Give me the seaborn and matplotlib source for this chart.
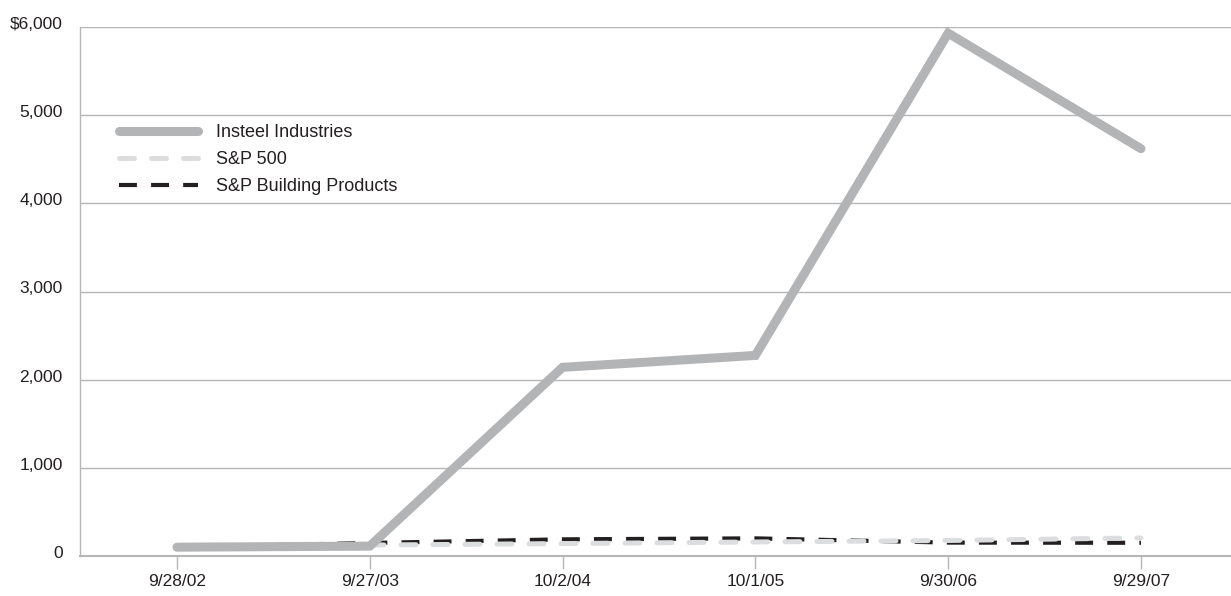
import matplotlib
matplotlib.use("Agg")
import matplotlib.pyplot as plt
import matplotlib.transforms as mtransforms
from matplotlib import font_manager
import seaborn as sns
import pandas as pd
from matplotlib.ticker import FuncFormatter

dates = ["9/28/02", "9/27/03", "10/2/04", "10/1/05", "9/30/06", "9/29/07"]
insteel = [100, 112, 2140, 2275, 5930, 4620]
sp500 = [100, 124, 141, 159, 176, 205]
building = [100, 148, 189, 200, 152, 150]
series_names = ["Insteel Industries", "S&P 500", "S&P Building Products"]
yticks = [0, 1000, 2000, 3000, 4000, 5000, 6000]

sns.set_theme(style="white")

names = {f.name for f in font_manager.fontManager.ttflist}
if "Liberation Sans Narrow" in names:
    fam = ["Liberation Sans Narrow", "DejaVu Sans"]
    scale = 1.0 / 0.82
else:
    fam = ["Liberation Sans", "DejaVu Sans"]
    scale = 1.0
plt.rcParams['font.family'] = fam

fig = plt.figure(figsize=(12.31, 5.96), dpi=100)
ax = fig.add_axes([80/1231, 1-556/596, 1-80/1231, (556-27)/596])

pos = list(range(len(dates)))
df = pd.DataFrame({"pos": pos, "Insteel": insteel, "SP500": sp500, "Building": building})

grid_c = "#b5b6b8"
text_c = "#231f20"
sns.lineplot(data=df, x="pos", y="Building", ax=ax, color="#231f20", linewidth=3.0,
             label=series_names[2], zorder=3)
sns.lineplot(data=df, x="pos", y="SP500", ax=ax, color="#dcdddf", linewidth=3.6,
             label=series_names[1], zorder=4)
sns.lineplot(data=df, x="pos", y="Insteel", ax=ax, color="#b3b4b6", linewidth=6.5,
             label=series_names[0], zorder=5)

lines = ax.get_lines()
lines[0].set_dashes([4.3, 3.4])
lines[0].set_dash_capstyle("butt")
lines[1].set_dashes([3.0, 3.4])
lines[1].set_dash_capstyle("round")
lines[2].set_solid_capstyle("round")
lines[2].set_solid_joinstyle("miter")

ax.set_xlim(-0.503, 5.467)
ax.set_ylim(0, 6000)
ax.set_yticks(yticks)
ax.yaxis.set_major_formatter(FuncFormatter(
    lambda v, p: "$6,000" if v == 6000 else ("0" if v == 0 else f"{int(v):,}")))
ax.set_xticks(pos)
ax.set_xticklabels(dates)
ax.set_xlabel("")
ax.set_ylabel("")

ax.grid(axis="y", color=grid_c, linewidth=1.0)
ax.grid(axis="x", visible=False)
ax.set_axisbelow(True)
for s in ["top", "right"]:
    ax.spines[s].set_visible(False)
ax.spines["left"].set_color(grid_c)
ax.spines["left"].set_linewidth(1.0)
ax.spines["bottom"].set_color(grid_c)
ax.spines["bottom"].set_linewidth(1.5)

ax.tick_params(axis="x", which="major", bottom=True, length=9, width=1.0, color=grid_c,
               labelsize=12.5 * scale, pad=4, labelcolor=text_c)
ax.tick_params(axis="y", left=False, length=0, labelsize=12.5 * scale, pad=12.5,
               labelcolor=text_c)

offset = mtransforms.ScaledTranslation(0, 3/72, fig.dpi_scale_trans)
for lbl in ax.get_yticklabels():
    lbl.set_transform(lbl.get_transform() + offset)

handles, labels = ax.get_legend_handles_labels()
order = [labels.index(n) for n in series_names]
leg = ax.legend([handles[i] for i in order], [labels[i] for i in order],
                loc="upper left", bbox_to_anchor=(110/1231, 1-115/596),
                bbox_transform=fig.transFigure, frameon=False, fontsize=13 * scale,
                handlelength=4.4 / scale, handletextpad=0.95 / scale,
                labelspacing=0.55, borderpad=0)
for t in leg.get_texts():
    t.set_color(text_c)

fig.savefig("out.png", dpi=100)
